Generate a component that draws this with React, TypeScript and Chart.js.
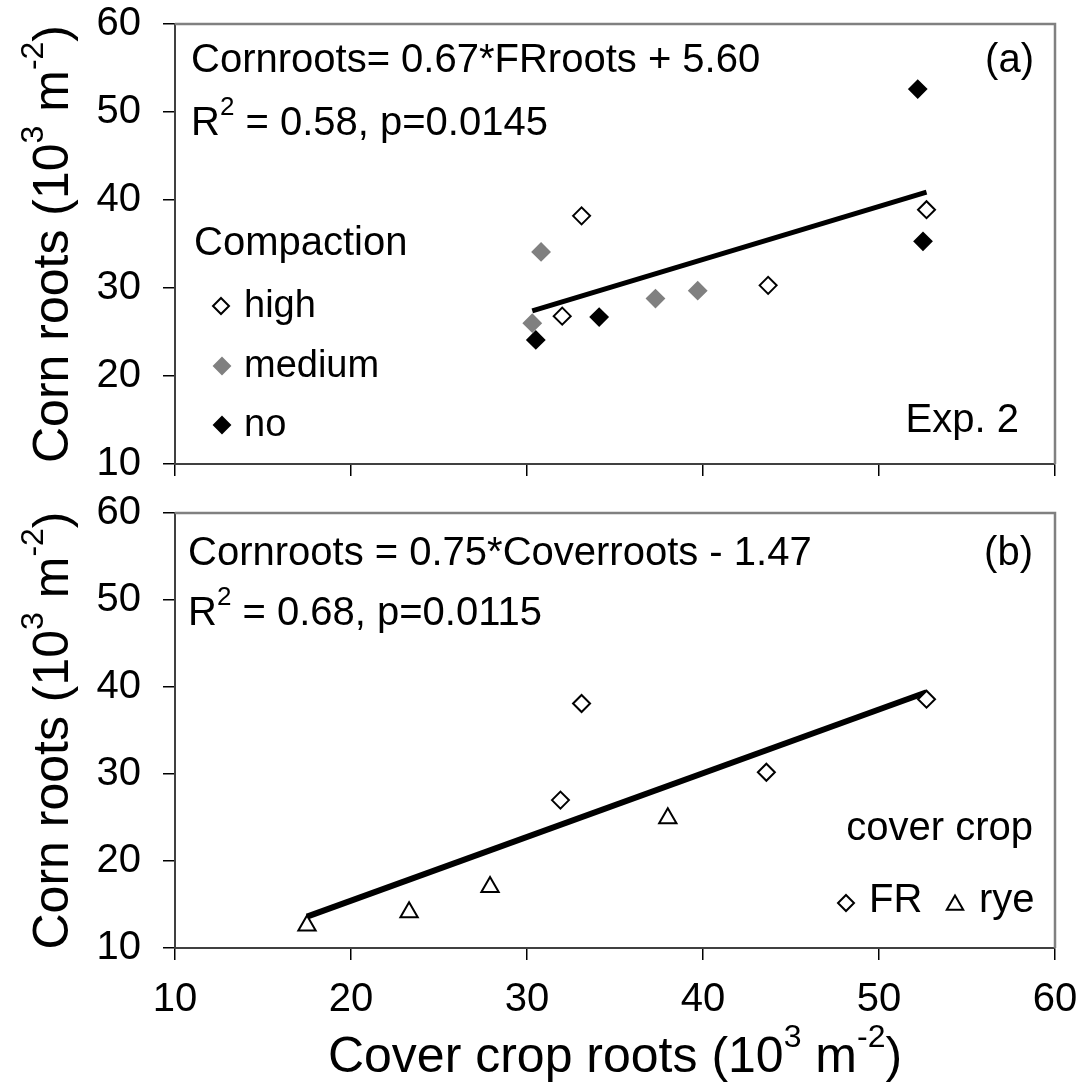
import React, { useEffect, useRef } from 'react';
import { Chart, registerables } from 'chart.js';

Chart.register(...registerables);

// ---------- data ----------
const X_TICKS = [10, 20, 30, 40, 50, 60];
const Y_TICKS = [10, 20, 30, 40, 50, 60];

// Panel (a): FR cover crop roots vs corn roots, by compaction level
const highX = [33.1, 32.0, 43.7, 52.7];
const highY = [38.2, 26.8, 30.3, 38.9];
const mediumX = [30.8, 30.3, 37.3, 39.7];
const mediumY = [34.1, 26.0, 28.8, 29.7];
const noX = [52.2, 52.5, 34.1, 30.5];
const noY = [52.6, 35.3, 26.7, 24.1];
const fitAX = [30.3, 52.7];
const fitAY = [27.4, 40.9];

// Panel (b): cover crop roots vs corn roots, by cover crop
const frX = [33.1, 31.9, 43.6, 52.7];
const frY = [38.1, 27.0, 30.2, 38.6];
const ryeX = [17.5, 23.3, 27.9, 38.0];
const ryeY = [12.6, 14.1, 17.0, 24.9];
const fitBX = [17.5, 52.7];
const fitBY = [13.6, 39.4];

// ---------- text ----------
const FONT = "'Liberation Sans', Arial, Helvetica, sans-serif";
type Seg = { t: string; sup?: boolean };
const Y_TITLE: Seg[] = [{ t: 'Corn roots (10' }, { t: '3', sup: true }, { t: ' m' }, { t: '-2', sup: true }, { t: ')' }];
const X_TITLE: Seg[] = [{ t: 'Cover crop roots (10' }, { t: '3', sup: true }, { t: ' m' }, { t: '-2', sup: true }, { t: ')' }];
const EQ_A: Seg[] = [{ t: 'Cornroots= 0.67*FRroots + 5.60' }];
const R2_A: Seg[] = [{ t: 'R' }, { t: '2', sup: true }, { t: ' = 0.58, p=0.0145' }];
const EQ_B: Seg[] = [{ t: 'Cornroots = 0.75*Coverroots - 1.47' }];
const R2_B: Seg[] = [{ t: 'R' }, { t: '2', sup: true }, { t: ' = 0.68, p=0.0115' }];

const zip = (xs: number[], ys: number[]) => xs.map((x, i) => ({ x, y: ys[i] }));

function drawRich(ctx: CanvasRenderingContext2D, segs: Seg[], x: number, y: number, size: number, align: 'left' | 'center' | 'right' = 'left') {
  const supSize = Math.round(size * 0.64);
  let w = 0;
  for (const s of segs) {
    ctx.font = `${s.sup ? supSize : size}px ${FONT}`;
    w += ctx.measureText(s.t).width;
  }
  let cx = align === 'left' ? x : align === 'center' ? x - w / 2 : x - w;
  ctx.textAlign = 'left';
  ctx.textBaseline = 'alphabetic';
  ctx.fillStyle = '#000';
  for (const s of segs) {
    ctx.font = `${s.sup ? supSize : size}px ${FONT}`;
    ctx.fillText(s.t, cx, s.sup ? y - size * 0.5 : y);
    cx += ctx.measureText(s.t).width;
  }
}

function diamond(ctx: CanvasRenderingContext2D, x: number, y: number, r: number, fill: string, stroke: string) {
  ctx.beginPath();
  ctx.moveTo(x, y - r);
  ctx.lineTo(x + r, y);
  ctx.lineTo(x, y + r);
  ctx.lineTo(x - r, y);
  ctx.closePath();
  ctx.fillStyle = fill;
  ctx.fill();
  ctx.lineWidth = 2;
  ctx.strokeStyle = stroke;
  ctx.stroke();
}

function triangle(ctx: CanvasRenderingContext2D, x: number, y: number, r: number) {
  ctx.beginPath();
  ctx.moveTo(x, y - r);
  ctx.lineTo(x + r * 0.866, y + r * 0.5);
  ctx.lineTo(x - r * 0.866, y + r * 0.5);
  ctx.closePath();
  ctx.fillStyle = '#fff';
  ctx.fill();
  ctx.lineWidth = 2;
  ctx.strokeStyle = '#000';
  ctx.stroke();
}

function frame(ctx: CanvasRenderingContext2D, chart: any) {
  const a = chart.chartArea;
  ctx.save();
  ctx.strokeStyle = '#808080';
  ctx.lineWidth = 2.5;
  ctx.beginPath();
  ctx.moveTo(a.left, a.top);
  ctx.lineTo(a.right, a.top);
  ctx.lineTo(a.right, a.bottom);
  ctx.stroke();
  ctx.restore();
}

function yTitle(ctx: CanvasRenderingContext2D, chart: any) {
  const a = chart.chartArea;
  ctx.save();
  ctx.translate(68, (a.top + a.bottom) / 2);
  ctx.rotate(-Math.PI / 2);
  drawRich(ctx, Y_TITLE, 0, 0, 50, 'center');
  ctx.restore();
}

const overlayA = {
  id: 'overlayA',
  afterDraw(chart: any) {
    const ctx = chart.ctx as CanvasRenderingContext2D;
    frame(ctx, chart);
    ctx.save();
    yTitle(ctx, chart);
    drawRich(ctx, EQ_A, 191, 72, 40);
    drawRich(ctx, R2_A, 191, 135, 40);
    drawRich(ctx, [{ t: '(a)' }], 1034, 72, 40, 'right');
    drawRich(ctx, [{ t: 'Compaction' }], 194, 255, 40);
    diamond(ctx, 221, 306, 8, '#fff', '#000');
    drawRich(ctx, [{ t: 'high' }], 244, 317, 38);
    diamond(ctx, 222, 366, 8, '#808080', '#808080');
    drawRich(ctx, [{ t: 'medium' }], 244, 377, 38);
    diamond(ctx, 222, 425, 8, '#000', '#000');
    drawRich(ctx, [{ t: 'no' }], 244, 436, 38);
    drawRich(ctx, [{ t: 'Exp. 2' }], 1019, 432, 40, 'right');
    ctx.restore();
  },
};

const overlayB = {
  id: 'overlayB',
  afterDraw(chart: any) {
    const ctx = chart.ctx as CanvasRenderingContext2D;
    frame(ctx, chart);
    ctx.save();
    yTitle(ctx, chart);
    drawRich(ctx, EQ_B, 188, 76, 40);
    drawRich(ctx, R2_B, 188, 136, 40);
    drawRich(ctx, [{ t: '(b)' }], 1033, 76, 40, 'right');
    drawRich(ctx, [{ t: 'cover crop' }], 1033, 351, 40, 'right');
    diamond(ctx, 846, 414, 8, '#fff', '#000');
    drawRich(ctx, [{ t: 'FR' }], 869, 423, 40);
    triangle(ctx, 955, 416, 9.5);
    drawRich(ctx, [{ t: 'rye' }], 979, 423, 40);
    const a = chart.chartArea;
    drawRich(ctx, X_TITLE, (a.left + a.right) / 2, 583, 50, 'center');
    ctx.restore();
  },
};

function makeOptions(showX: boolean, xHeight: number): any {
  const tickFont = { family: FONT, size: 40 };
  return {
    responsive: false,
    animation: false,
    events: [],
    layout: { padding: { top: 24, right: 26, left: 0, bottom: 0 } },
    plugins: { legend: { display: false }, tooltip: { enabled: false } },
    scales: {
      x: {
        type: 'linear',
        min: 10,
        max: 60,
        afterBuildTicks: (s: any) => { s.ticks = X_TICKS.map((v) => ({ value: v })); },
        afterFit: (s: any) => {
          s.height = xHeight;
          s.paddingLeft = 0;
          s.paddingRight = 0;
          s.paddingTop = 0;
          s.paddingBottom = 0;
        },
        ticks: { display: showX, font: tickFont, color: '#000', padding: 16, maxRotation: 0 },
        grid: { drawOnChartArea: false, drawTicks: true, tickLength: 12, color: '#000', lineWidth: 1.5 },
        border: { display: true, color: '#404040', width: 2 },
      },
      y: {
        type: 'linear',
        min: 10,
        max: 60,
        afterBuildTicks: (s: any) => { s.ticks = Y_TICKS.map((v) => ({ value: v })); },
        afterFit: (s: any) => {
          s.width = 175;
          s.paddingLeft = 0;
          s.paddingRight = 0;
          s.paddingTop = 0;
          s.paddingBottom = 0;
        },
        ticks: { font: tickFont, color: '#000', padding: 22 },
        grid: { drawOnChartArea: false, drawTicks: true, tickLength: 12, color: '#000', lineWidth: 1.5 },
        border: { display: true, color: '#404040', width: 2 },
      },
    },
  };
}

export default function App() {
  const refA = useRef<HTMLCanvasElement>(null);
  const refB = useRef<HTMLCanvasElement>(null);

  useEffect(() => {
    const diamondSet = (label: string, xs: number[], ys: number[], fill: string, stroke: string) => ({
      label,
      data: zip(xs, ys),
      pointStyle: 'rectRot',
      pointRadius: 8.5,
      pointHoverRadius: 8.5,
      backgroundColor: fill,
      borderColor: stroke,
      borderWidth: 2,
    });
    const fitSet = (xs: number[], ys: number[], w: number) => ({
      label: 'fit',
      data: zip(xs, ys),
      showLine: true,
      pointRadius: 0,
      borderColor: '#000',
      borderWidth: w,
      borderCapStyle: 'butt',
    });

    const chartA = new Chart(refA.current as HTMLCanvasElement, {
      type: 'scatter',
      data: {
        datasets: [
          diamondSet('high', highX, highY, '#ffffff', '#000000'),
          diamondSet('medium', mediumX, mediumY, '#808080', '#808080'),
          diamondSet('no', noX, noY, '#000000', '#000000'),
          fitSet(fitAX, fitAY, 5),
        ] as any,
      },
      options: makeOptions(false, 25),
      plugins: [overlayA],
    });

    const chartB = new Chart(refB.current as HTMLCanvasElement, {
      type: 'scatter',
      data: {
        datasets: [
          diamondSet('FR', frX, frY, '#ffffff', '#000000'),
          {
            label: 'rye',
            data: zip(ryeX, ryeY),
            pointStyle: 'triangle',
            pointRadius: 10,
            pointHoverRadius: 10,
            backgroundColor: '#ffffff',
            borderColor: '#000000',
            borderWidth: 2,
          },
          fitSet(fitBX, fitBY, 6),
        ] as any,
      },
      options: makeOptions(true, 140),
      plugins: [overlayB],
    });

    return () => {
      chartA.destroy();
      chartB.destroy();
    };
  }, []);

  return (
    <div style={{ position: 'absolute', left: 0, top: 0, width: 1081, height: 1088, background: '#ffffff' }}>
      <canvas ref={refA} width={1081} height={489} style={{ position: 'absolute', left: 0, top: 0 }} />
      <canvas ref={refB} width={1081} height={599} style={{ position: 'absolute', left: 0, top: 489 }} />
    </div>
  );
}
